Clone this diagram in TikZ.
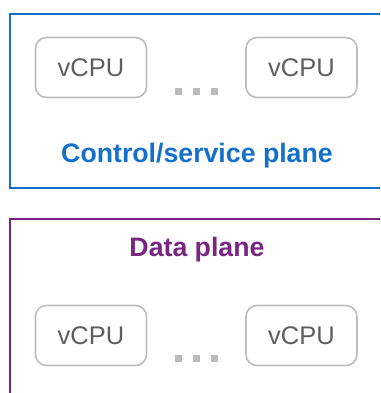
\documentclass[tikz,border=0pt]{standalone}
\usepackage{fontspec}
\setmainfont{Liberation Sans}
\definecolor{ctlblue}{HTML}{1570CC}
\definecolor{dataviolet}{HTML}{78267F}
\definecolor{boxgray}{HTML}{BDBDBD}
\definecolor{txtgray}{HTML}{5E5E5E}
\definecolor{dotgray}{HTML}{BBBBBB}
\tikzset{
  cpubox/.style={draw=boxgray, line width=1.6pt, rounded corners=11pt, minimum width=111pt, minimum height=60pt, inner sep=0pt, text=txtgray, font=\fontsize{25.5}{28}\selectfont},
  planelabel/.style={font=\fontsize{26.7}{30}\selectfont\bfseries, inner sep=0pt},
  dotsq/.style={fill=dotgray, draw=none, minimum size=7pt, inner sep=0pt}
}
\begin{document}
\begin{tikzpicture}[x=1pt,y=-1pt]
\useasboundingbox (0,0) rectangle (380,393);
\clip (0,0) rectangle (380,393);
% control plane
\node[draw=ctlblue, line width=2.2pt, minimum width=380pt, minimum height=174pt, anchor=north west, inner sep=0pt] (ctl) at (9,13) {};
\node[cpubox] (c1) at (91,67.5) {vCPU};
\node[cpubox] (c2) at (301.5,67.5) {vCPU};
\node[dotsq] (cd1) at (178.5,91.5) {};
\node[dotsq] (cd2) at (196.5,91.5) {};
\node[dotsq] (cd3) at (214.5,91.5) {};
\node[planelabel, text=ctlblue] (ctllabel) at (197,155.5) {Control/service plane};
% data plane
\node[draw=dataviolet, line width=2.2pt, minimum width=380pt, minimum height=200pt, anchor=north west, inner sep=0pt] (dat) at (9,218) {};
\node[planelabel, text=dataviolet] (datlabel) at (197,249.5) {Data plane};
\node[cpubox] (d1) at (91,335.5) {vCPU};
\node[cpubox] (d2) at (301.5,335.5) {vCPU};
\node[dotsq] (dd1) at (178.5,358.5) {};
\node[dotsq] (dd2) at (196.5,358.5) {};
\node[dotsq] (dd3) at (214.5,358.5) {};
\end{tikzpicture}
\end{document}
